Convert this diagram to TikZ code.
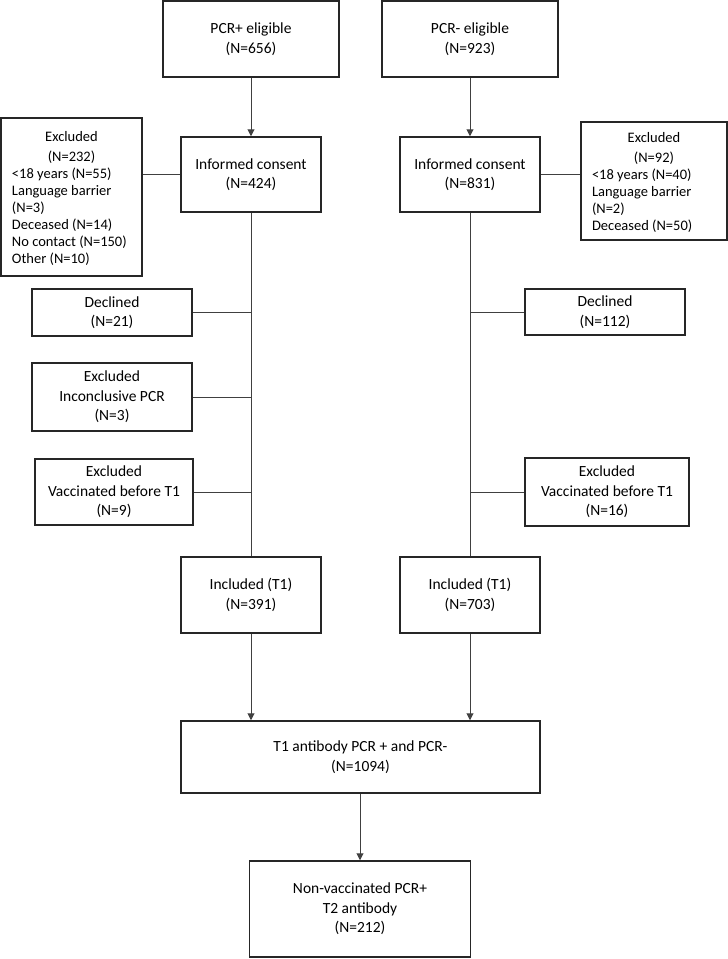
\documentclass[tikz,border=0pt]{standalone}
\usepackage{fontspec}
\setmainfont{Carlito}
\usetikzlibrary{arrows.meta}
\newcommand{\ctrline}[1]{\hspace*{\fill}#1\hspace*{\fill}\null}
\begin{document}
\begin{tikzpicture}[x=1pt,y=-1pt,
  box/.style={draw=black!85, line width=1.5pt, align=center, inner sep=2pt, font=\fontsize{15.5}{19.5}\selectfont},
  exbox/.style={draw=black!85, line width=1.5pt, inner xsep=11pt, inner ysep=0pt, font=\fontsize{14.5}{17}\selectfont},
  conn/.style={draw=black!75, line width=1pt},
  arr/.style={conn, -{Triangle[width=7pt,length=7pt]}}]
\useasboundingbox (0,0) rectangle (728,959);
% top row
\node[box, minimum width=176pt, minimum height=76pt] (pp) at (251,39) {PCR+ eligible\\(N=656)};
\node[box, minimum width=176pt, minimum height=76pt] (pn) at (470,39) {PCR- eligible\\(N=923)};
% informed consent
\node[box, minimum width=140pt, minimum height=75pt] (icl) at (251,174.5) {Informed consent\\(N=424)};
\node[box, minimum width=140pt, minimum height=75pt] (icr) at (470,174.5) {Informed consent\\(N=831)};
% excluded side boxes
\node[exbox] (exl) at (71.5,197) {\parbox[c][158pt][t]{119pt}{\vspace*{13pt}\raggedright
  \ctrline{Excluded}\\[3pt]
  \ctrline{(N=232)}\\
  <18 years (N=55)\\
  Language barrier\\
  (N=3)\\
  Deceased (N=14)\\
  No contact (N=150)\\
  Other (N=10)}};
\node[exbox] (exr) at (654,181) {\parbox[c][118pt][t]{124pt}{\vspace*{10pt}\raggedright
  \ctrline{Excluded}\\[3pt]
  \ctrline{(N=92)}\\
  <18 years (N=40)\\
  Language barrier\\
  (N=2)\\
  Deceased (N=50)}};
% left branch boxes
\node[box, minimum width=160pt, minimum height=47pt] (dl) at (112,312.5) {Declined\\(N=21)};
\node[box, minimum width=160pt, minimum height=68pt] (ipl) at (112,397) {Excluded\\Inconclusive PCR\\(N=3)};
\node[box, minimum width=158pt, minimum height=66pt] (vl) at (114,492) {Excluded\\Vaccinated before T1\\(N=9)};
% right branch boxes
\node[box, minimum width=160pt, minimum height=46pt] (dr) at (605,312) {Declined\\(N=112)};
\node[box, minimum width=164pt, minimum height=68pt] (vr) at (607,492) {Excluded\\Vaccinated before T1\\(N=16)};
% included
\node[box, minimum width=140pt, minimum height=76pt] (inl) at (251,595) {Included (T1)\\(N=391)};
\node[box, minimum width=140pt, minimum height=76pt] (inr) at (470,595) {Included (T1)\\(N=703)};
% merged
\node[box, minimum width=359pt, minimum height=72pt] (t1) at (360.5,757) {T1 antibody PCR + and PCR-\\(N=1094)};
\node[box, minimum width=221pt, minimum height=96pt] (fin) at (360,909) {Non-vaccinated PCR+\\T2 antibody\\(N=212)};
% connectors
\draw[arr] (pp.south) -- (icl.north);
\draw[arr] (pn.south) -- (icr.north);
\draw[conn] (icl.west) -- (icl.west -| exl.east);
\draw[conn] (icr.east) -- (icr.east -| exr.west);
\draw[conn] (icl.south) -- (inl.north);
\draw[conn] (icr.south) -- (inr.north);
\draw[conn] (dl.east) -- (dl.east -| icl.south);
\draw[conn] (ipl.east) -- (ipl.east -| icl.south);
\draw[conn] (vl.east) -- (vl.east -| icl.south);
\draw[conn] (dr.west) -- (dr.west -| icr.south);
\draw[conn] (vr.west) -- (vr.west -| icr.south);
\draw[arr] (inl.south) -- (inl.south |- t1.north);
\draw[arr] (inr.south) -- (inr.south |- t1.north);
\draw[arr] (fin.north |- t1.south) -- (fin.north);
\end{tikzpicture}
\end{document}
